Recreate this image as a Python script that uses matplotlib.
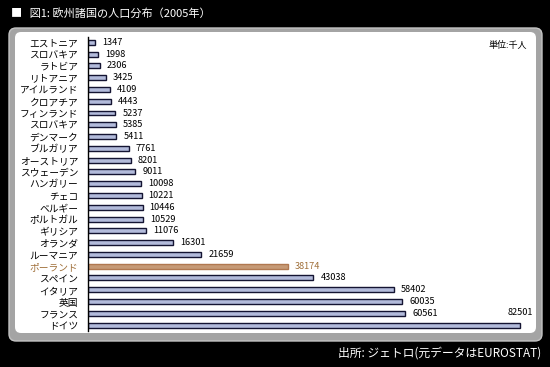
import matplotlib
matplotlib.use("Agg")
import matplotlib.pyplot as plt
from matplotlib.patches import FancyBboxPatch

plt.rcParams['font.family'] = ['Noto Sans CJK JP', 'DejaVu Sans']

countries = ["エストニア", "スロバキア", "ラトビア", "リトアニア", "アイルランド", "クロアチア",
             "フィンランド", "スロバキア", "デンマーク", "ブルガリア", "オーストリア", "スウェーデン",
             "ハンガリー", "チェコ", "ベルギー", "ポルトガル", "ギリシア", "オランダ", "ルーマニア",
             "ポーランド", "スペイン", "イタリア", "英国", "フランス", "ドイツ"]
population = [1347, 1998, 2306, 3425, 4109, 4443, 5237, 5385, 5411, 7761, 8201, 9011,
              10098, 10221, 10446, 10529, 11076, 16301, 21659, 38174, 43038, 58402,
              60035, 60561, 82501]
highlight = "ポーランド"

title = "■   図1: 欧州諸国の人口分布（2005年）"
unit_label = "単位:千人"
source = "出所: ジェトロ(元データはEUROSTAT)"

W, H = 550, 367
fig = plt.figure(figsize=(W / 100, H / 100), dpi=100, facecolor="black")

# background panel
bg = fig.add_axes([0, 0, 1, 1])
bg.set_xlim(0, W)
bg.set_ylim(H, 0)
bg.axis("off")
bg.set_facecolor("black")
bg.add_patch(FancyBboxPatch((9, 28), 533, 313, boxstyle="round,pad=0,rounding_size=7",
                            facecolor="#a4a4a4", edgecolor="#c4c4c4", linewidth=1))
bg.add_patch(FancyBboxPatch((15, 32), 521, 301, boxstyle="round,pad=0,rounding_size=6",
                            facecolor="white", edgecolor="none"))
bg.text(11, 13, title, color="white", fontsize=8, va="center", ha="left")
bg.text(541, 353, source, color="white", fontsize=8.5, va="center", ha="right")
bg.text(527, 45, unit_label, color="black", fontsize=6.5, va="center", ha="right")

# chart axes
left, right = 88 / W, 530 / W
top, bottom = 1 - 37 / H, 1 - 331 / H
ax = fig.add_axes([left, bottom, right - left, top - bottom])
ax.set_facecolor("none")

n = len(countries)
ypos = list(range(n))
fills = ["#c69a76" if c == highlight else "#b3bbdb" for c in countries]
edges = ["#b07850" if c == highlight else "#141432" for c in countries]
ax.barh(ypos, population, height=0.42, color=fills, edgecolor=edges, linewidth=1.0)

ax.set_xlim(0, 84400)
ax.set_ylim(n - 0.5, -0.45)
ax.set_yticks(ypos)
ax.set_yticklabels(countries, fontsize=7)
for lbl, c in zip(ax.get_yticklabels(), countries):
    lbl.set_color("#a0703a" if c == highlight else "black")
ax.tick_params(axis="y", length=0, pad=7)
ax.set_xticks([])
for s in ["top", "right", "bottom"]:
    ax.spines[s].set_visible(False)
ax.spines["left"].set_linewidth(1.0)
ax.spines["left"].set_color("black")

vmax = max(population)
for y, v, c in zip(ypos, population, countries):
    col = "#a0703a" if c == highlight else "black"
    if v == vmax:
        ax.annotate(str(v), (v, y), xytext=(0, 6), textcoords="offset points",
                    ha="center", va="bottom", fontsize=6.6, color=col)
    else:
        ax.annotate(str(v), (v, y), xytext=(5, 0), textcoords="offset points",
                    ha="left", va="center", fontsize=6.6, color=col)

fig.savefig("out.png", dpi=100, facecolor="black")
